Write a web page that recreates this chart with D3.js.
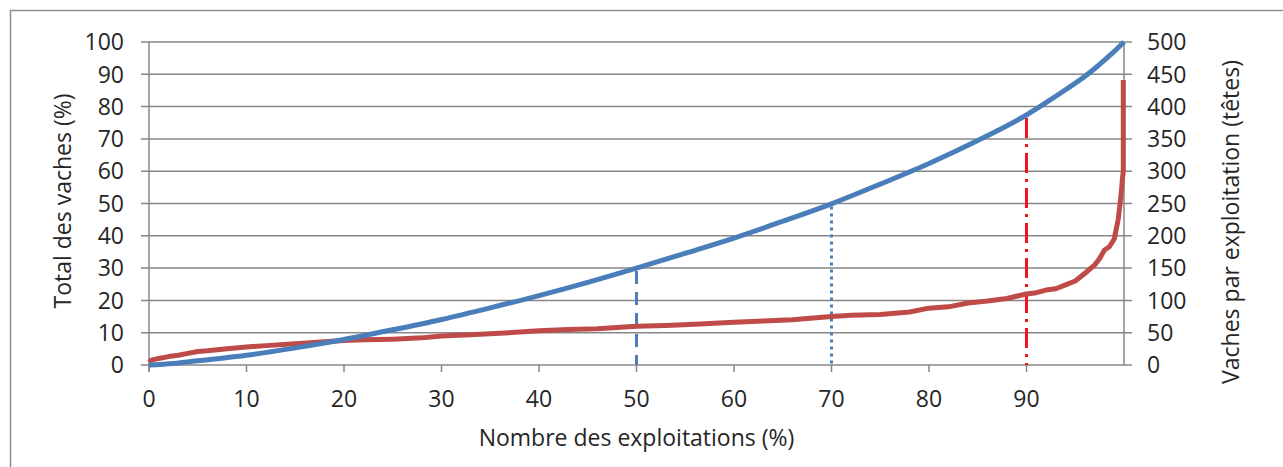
<!DOCTYPE html>
<html>
<head>
<meta charset="utf-8">
<script src="https://cdn.jsdelivr.net/npm/d3@7"></script>
<style>
  html, body { margin: 0; padding: 0; background: #ffffff; }
  svg { display: block; }
  text { font-family: "Open Sans", "Noto Sans", sans-serif; fill: #262626; }
</style>
</head>
<body>
<svg id="chart" width="1283" height="467"></svg>
<script>
// Cumulative share of cows (%) by share of farms (%), farms sorted by herd size
const shareFarms = [0, 2.5, 5, 7.5, 10, 15, 20, 25, 30, 35, 40, 45, 50, 55, 60, 65, 70, 75, 80, 85, 90, 92, 94, 96, 97, 98, 99, 100];
const shareCows  = [0, 0.5, 1.3, 2.1, 3.0, 5.3, 7.9, 10.9, 14.1, 17.7, 21.5, 25.6, 30.0, 34.6, 39.3, 44.5, 49.9, 56.0, 62.4, 69.5, 77.4, 81.2, 85.2, 89.4, 91.8, 94.4, 97.1, 100];

// Herd size (heads per farm) along the same ranking
const herdFarms = [0, 0.3, 1, 2, 3, 4, 5, 6, 8, 10, 12, 15, 18, 20, 22, 25, 28, 30, 33, 36, 40, 43, 46, 50, 53, 56, 60, 63, 66, 70, 72, 75, 78, 80, 82, 84, 86, 88, 90, 91, 92, 93, 94, 95, 96, 97, 97.5, 98, 98.5, 99, 99.2, 99.4, 99.6, 99.75, 99.85, 99.93, 99.93];
const herdSize  = [4, 8, 10, 13, 15, 18, 21, 22, 25, 28, 30, 33, 36, 38, 39, 40, 42, 45, 47, 49, 53, 55, 56, 60, 61, 63, 66, 68, 70, 75, 77, 78, 82, 88, 90, 96, 99, 103, 110, 112, 116, 118, 124, 130, 142, 155, 165, 178, 183, 195, 210, 225, 250, 272, 290, 300, 441];

// Reference verticals: farm share and the cow share reached there
const guideFarms = [50, 70, 90];
const guideCows  = [30, 50, 77.4];

const xTicks = [0, 10, 20, 30, 40, 50, 60, 70, 80, 90];
const leftTicks = [0, 10, 20, 30, 40, 50, 60, 70, 80, 90, 100];
const rightTicks = [0, 50, 100, 150, 200, 250, 300, 350, 400, 450, 500];

const svg = d3.select("#chart");
const plot = { left: 149, right: 1124, top: 42, bottom: 365 };
const fontSize = 23;

const x = d3.scaleLinear().domain([0, 100]).range([plot.left, plot.right]);
const yL = d3.scaleLinear().domain([0, 100]).range([plot.bottom, plot.top]);
const yR = d3.scaleLinear().domain([0, 500]).range([plot.bottom, plot.top]);

const gridColor = "#878787";

// Outer frame (top and left edges visible)
svg.append("path")
  .attr("d", "M10.5,467 L10.5,10.5 L1283,10.5")
  .attr("fill", "none").attr("stroke", "#8f8f8f").attr("stroke-width", 1.5);

// Horizontal gridlines, extended as tick marks past both axes
svg.append("g").selectAll("line").data(leftTicks).join("line")
  .attr("x1", plot.left - 8).attr("x2", plot.right + 8)
  .attr("y1", d => yL(d)).attr("y2", d => yL(d))
  .attr("stroke", gridColor).attr("stroke-width", 1.5);

// Left and right axis lines
svg.append("line").attr("x1", plot.left).attr("x2", plot.left)
  .attr("y1", plot.top).attr("y2", plot.bottom + 7)
  .attr("stroke", gridColor).attr("stroke-width", 1.5);
svg.append("line").attr("x1", plot.right).attr("x2", plot.right)
  .attr("y1", plot.top).attr("y2", plot.bottom)
  .attr("stroke", gridColor).attr("stroke-width", 1.5);

// Bottom axis ticks
svg.append("g").selectAll("line").data(xTicks).join("line")
  .attr("x1", d => x(d)).attr("x2", d => x(d))
  .attr("y1", plot.bottom).attr("y2", plot.bottom + 7)
  .attr("stroke", gridColor).attr("stroke-width", 1.5);

// Tick labels
svg.append("g").selectAll("text").data(leftTicks).join("text")
  .attr("x", 124).attr("y", d => yL(d)).attr("dy", "0.36em")
  .attr("text-anchor", "end").attr("font-size", fontSize).text(d => d);
svg.append("g").selectAll("text").data(rightTicks).join("text")
  .attr("x", 1147).attr("y", d => yR(d)).attr("dy", "0.36em")
  .attr("text-anchor", "start").attr("font-size", fontSize).text(d => d);
svg.append("g").selectAll("text").data(xTicks).join("text")
  .attr("x", d => x(d)).attr("y", 407)
  .attr("text-anchor", "middle").attr("font-size", fontSize).text(d => d);

// Axis titles
svg.append("text").attr("x", (plot.left + plot.right) / 2).attr("y", 446)
  .attr("text-anchor", "middle").attr("font-size", fontSize)
  .text("Nombre des exploitations (%)");
svg.append("text").attr("transform", "translate(63,201) rotate(-90)")
  .attr("dy", "0.36em").attr("text-anchor", "middle").attr("font-size", fontSize)
  .text("Total des vaches (%)");
svg.append("text").attr("transform", "translate(1231,222) rotate(-90)")
  .attr("dy", "0.36em").attr("text-anchor", "middle").attr("font-size", fontSize)
  .text("Vaches par exploitation (têtes)");

// Reference verticals
const guideStyles = [
  { color: "#4a7ebb", dash: "13,8" },
  { color: "#4a7ebb", dash: "3,4" },
  { color: "#f0141e", dash: "20,6,3,6" }
];
svg.append("g").selectAll("line").data(guideFarms).join("line")
  .attr("x1", d => x(d)).attr("x2", d => x(d))
  .attr("y1", (d, i) => yL(guideCows[i]) + 3).attr("y2", yL(0))
  .attr("stroke", (d, i) => guideStyles[i].color)
  .attr("stroke-width", 3)
  .attr("stroke-dasharray", (d, i) => guideStyles[i].dash);

// Herd size line (right axis)
const herdLine = d3.line().x(d => x(d[0])).y(d => yR(d[1]));
svg.append("path")
  .datum(herdFarms.map((f, i) => [f, herdSize[i]]))
  .attr("d", herdLine)
  .attr("fill", "none").attr("stroke", "#be4b48").attr("stroke-width", 5)
  .attr("stroke-linejoin", "round").attr("stroke-linecap", "butt");

// Cumulative cow share line (left axis)
const shareLine = d3.line().curve(d3.curveMonotoneX).x(d => x(d[0])).y(d => yL(d[1]));
svg.append("path")
  .datum(shareFarms.map((f, i) => [f, shareCows[i]]))
  .attr("d", shareLine)
  .attr("fill", "none").attr("stroke", "#4a7ebb").attr("stroke-width", 5)
  .attr("stroke-linejoin", "round").attr("stroke-linecap", "butt");
</script>
</body>
</html>
